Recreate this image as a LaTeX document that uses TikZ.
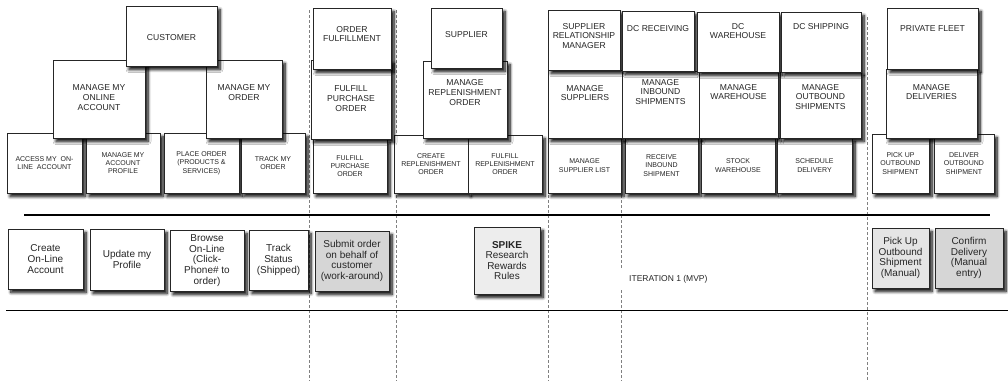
\documentclass[tikz,border=0pt]{standalone}
\usepackage{fontspec}
\setmainfont{Liberation Sans}
\usetikzlibrary{shadows.blur}
\tikzset{
  box/.style={draw=black!85, line width=0.9pt, fill=white, align=center, text=black!85, inner sep=1pt,
    blur shadow={shadow xshift=3pt, shadow yshift=-3.5pt, shadow blur radius=3pt, shadow blur steps=8, shadow opacity=100}},
  role/.style={box},
  activity/.style={box},
  task/.style={box, font=\fontsize{7}{8.3}\selectfont},
  story/.style={box, font=\fontsize{10}{10.6}\selectfont},
  every label/.style={align=center, text=black!85, font=\fontsize{8.6}{9.6}\selectfont, inner sep=0pt},
  divider/.style={gray, line width=0.8pt, dash pattern=on 3pt off 2pt},
}
\begin{document}
\begin{tikzpicture}[x=1pt,y=-1pt]
\useasboundingbox (0,0) rectangle (1008,381);

\draw[divider] (309,10) -- (309,381);
\draw[divider] (396,10) -- (396,381);
\draw[divider] (548,10) -- (548,381);
\draw[divider] (621,140) -- (621,381);
\draw[divider] (867,17) -- (867,381);
\draw[line width=2.7pt] (24,215) -- (990,215);
\draw[line width=1pt] (6,310) -- (1008,310);
\node[anchor=west, fill=white, inner xsep=9pt, inner ysep=7pt, text=black!85, font=\fontsize{8.5}{10}\selectfont] (iter) at (620,279) {ITERATION 1 (MVP)};

\node[task, minimum width=75, minimum height=60] (access) at (44.5,163) {ACCESS MY\ \ ON-\\LINE\ \ ACCOUNT};
\node[task, minimum width=74, minimum height=60] (profile) at (123,163) {MANAGE MY\\ACCOUNT\\PROFILE};
\node[task, minimum width=75, minimum height=60] (place) at (201.5,163) {PLACE ORDER\\(PRODUCTS \&\\SERVICES)};
\node[task, minimum width=64, minimum height=60] (track) at (273,163) {TRACK MY\\ORDER};
\node[task, minimum width=74, minimum height=54] (fulpo) at (350,166) {FULFILL\\PURCHASE\\ORDER};
\node[task, minimum width=74, minimum height=58] (crerep) at (431,164) {CREATE\\REPLENISHMENT\\ORDER};
\node[task, minimum width=74, minimum height=58] (fulrep) at (505,164) {FULFILL\\REPLENISHMENT\\ORDER};
\node[task, minimum width=73, minimum height=55] (suplist) at (584.5,165.5) {MANAGE\\SUPPLIER LIST};
\node[task, minimum width=73, minimum height=55] (receive) at (661.5,165.5) {RECEIVE\\INBOUND\\SHIPMENT};
\node[task, minimum width=74, minimum height=55] (stock) at (738,165.5) {STOCK\\WAREHOUSE};
\node[task, minimum width=75, minimum height=55] (sched) at (814.5,165.5) {SCHEDULE\\DELIVERY};
\node[task, minimum width=57, minimum height=59] (pickup) at (900.5,163.5) {PICK UP\\OUTBOUND\\SHIPMENT};
\node[task, minimum width=60, minimum height=59] (deliver) at (964,163.5) {DELIVER\\OUTBOUND\\SHIPMENT};

\node[activity, minimum width=92, minimum height=78, label={[yshift=1.5pt]center:MANAGE MY\\ONLINE\\ACCOUNT}] (macct) at (99,99) {};
\node[activity, minimum width=76, minimum height=78, label={[yshift=6.5pt]center:MANAGE MY\\ORDER}] (morder) at (244,99) {};
\node[activity, minimum width=80, minimum height=79, label={[yshift=1pt]center:FULFILL\\PURCHASE\\ORDER}] (mfulpo) at (351,99.5) {};
\node[activity, minimum width=84, minimum height=77, label={[yshift=7pt]center:MANAGE\\REPLENISHMENT\\ORDER}] (mrep) at (465,99.5) {};
\node[activity, minimum width=74, minimum height=68, label={[yshift=11pt]center:MANAGE\\SUPPLIERS}] (msup) at (585,104) {};
\node[activity, minimum width=77, minimum height=67, label={[yshift=12.5pt]center:MANAGE\\INBOUND\\SHIPMENTS}] (minb) at (660.5,104.5) {};
\node[activity, minimum width=79, minimum height=66, label={[yshift=13pt]center:MANAGE\\WAREHOUSE}] (mwh) at (738.5,105) {};
\node[activity, minimum width=81, minimum height=66, label={[yshift=8pt]center:MANAGE\\OUTBOUND\\SHIPMENTS}] (mout) at (820.5,105) {};
\node[activity, minimum width=91, minimum height=69, label={[yshift=11.5pt]center:MANAGE\\DELIVERIES}] (mdel) at (931.5,103.5) {};

\node[role, minimum width=91, minimum height=60, label={[yshift=-2pt]center:CUSTOMER}] (cust) at (171.5,36) {};
\node[role, minimum width=78, minimum height=61, label={[yshift=4.5pt]center:ORDER\\FULFILLMENT}] (ordful) at (352,38.5) {};
\node[role, minimum width=71, minimum height=60, label={[yshift=3pt]center:SUPPLIER}] (supp) at (466.5,38) {};
\node[role, minimum width=72, minimum height=60, label={[yshift=4pt]center:SUPPLIER\\RELATIONSHIP\\MANAGER}] (srm) at (584,40) {};
\node[role, minimum width=72, minimum height=60, label={[yshift=12pt]center:DC RECEIVING}] (dcrec) at (658,41) {};
\node[role, minimum width=82, minimum height=60, label={[yshift=11pt]center:DC\\WAREHOUSE}] (dcwh) at (738,42) {};
\node[role, minimum width=80, minimum height=60, label={[yshift=15.5pt]center:DC SHIPPING}] (dcship) at (821,42) {};
\node[role, minimum width=91, minimum height=61, label={[yshift=9.5pt]center:PRIVATE FLEET}] (fleet) at (932.5,38.5) {};

\node[story, minimum width=75, minimum height=60] (create) at (45.5,259) {Create\\On-Line\\Account};
\node[story, minimum width=74, minimum height=61] (update) at (127,259.5) {Update my\\Profile};
\node[story, minimum width=74, minimum height=61] (browse) at (207,260.5) {Browse\\On-Line\\(Click-\\Phone\# to\\order)};
\node[story, minimum width=59, minimum height=60] (status) at (278.5,260) {Track\\Status\\(Shipped)};
\node[story, minimum width=74, minimum height=60, fill=black!16] (submit) at (352,261) {Submit order\\on behalf of\\customer\\(work-around)};
\node[story, minimum width=66, minimum height=67, fill=black!7] (spike) at (507,260.5) {\textbf{SPIKE}\\Research\\Rewards\\Rules};
\node[story, minimum width=57, minimum height=60, fill=black!10] (pickman) at (900.5,258) {Pick Up\\Outbound\\Shipment\\(Manual)};
\node[story, minimum width=68, minimum height=60, fill=black!16] (confirm) at (969,258) {Confirm\\Delivery\\(Manual\\entry)};
\end{tikzpicture}
\end{document}
